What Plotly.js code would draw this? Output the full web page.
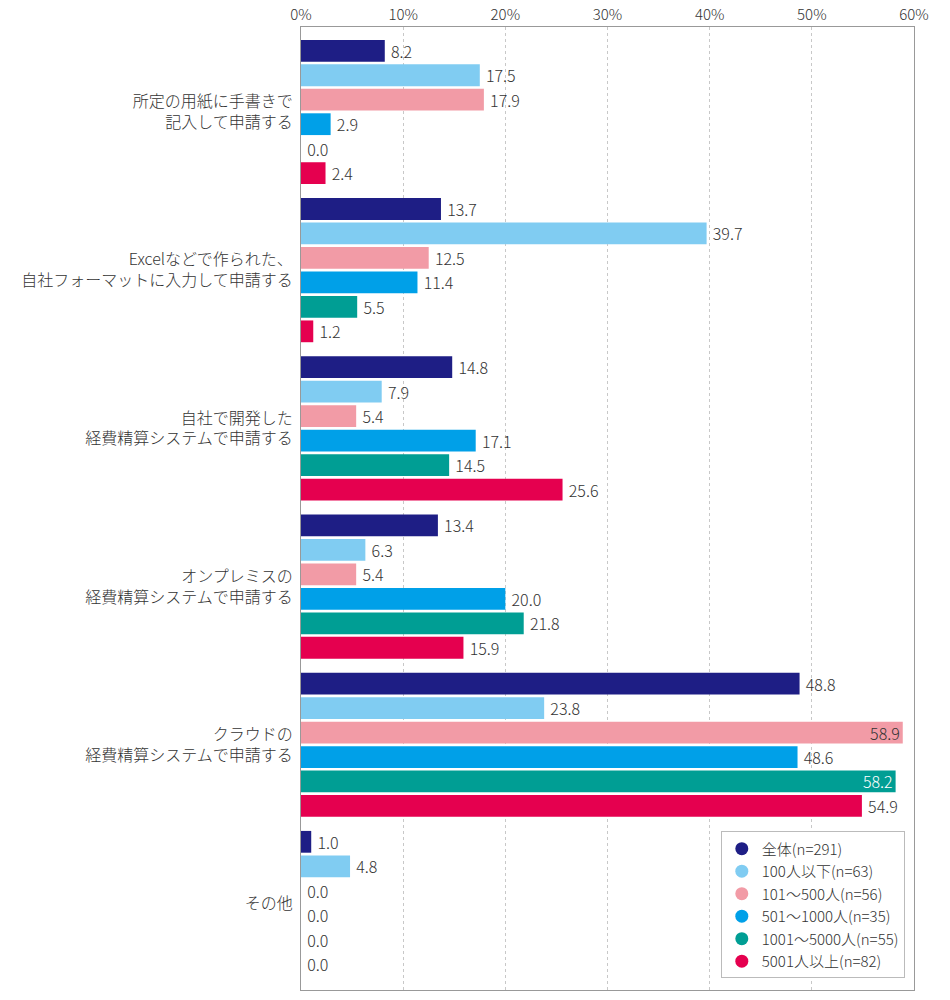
<!DOCTYPE html>
<html>
<head>
<meta charset="utf-8">
<script src="https://cdn.plot.ly/plotly-3.0.1.min.js"></script>
<style>
  body { margin: 0; background: #fff; }
  #chart { width: 950px; height: 1000px; }
</style>
</head>
<body>
<div id="chart"></div>
<script>
var categories = [
    '所定の用紙に手書きで<br>記入して申請する',
    'Excelなどで作られた、<br>自社フォーマットに入力して申請する',
    '自社で開発した<br>経費精算システムで申請する',
    'オンプレミスの<br>経費精算システムで申請する',
    'クラウドの<br>経費精算システムで申請する',
    'その他'
];

var seriesNames = ['全体(n=291)', '100人以下(n=63)', '101～500人(n=56)',
                   '501～1000人(n=35)', '1001～5000人(n=55)', '5001人以上(n=82)'];
var seriesColors = ['#1e1e85', '#80ccf2', '#f29ba6', '#00a0e8', '#009e94', '#e5004f'];

var allValues   = [8.2, 13.7, 14.8, 13.4, 48.8, 1.0];
var upTo100     = [17.5, 39.7, 7.9, 6.3, 23.8, 4.8];
var upTo500     = [17.9, 12.5, 5.4, 5.4, 58.9, 0.0];
var upTo1000    = [2.9, 11.4, 17.1, 20.0, 48.6, 0.0];
var upTo5000    = [0.0, 5.5, 14.5, 21.8, 58.2, 0.0];
var over5000    = [2.4, 1.2, 25.6, 15.9, 54.9, 0.0];

var seriesValues = [allValues, upTo100, upTo500, upTo1000, upTo5000, over5000];

var fontFam = '"Noto Sans CJK JP", "Noto Sans", sans-serif';

var traces = [];
seriesValues.forEach(function(vals, i) {
    // labels that would overflow the 60% edge go inside the bar
    var pos = vals.map(function(v) { return v > 56 ? 'inside' : 'outside'; });
    var tmpl = vals.map(function(v) { return v > 56 ? '%{x:.1f}' : '\u2009%{x:.1f}'; });
    var txtColor = vals.map(function(v) {
        return (v > 56 && i === 4) ? '#ffffff' : '#333333';
    });
    traces.push({
        type: 'bar',
        orientation: 'h',
        y: categories,
        x: vals,
        name: seriesNames[i],
        marker: {color: seriesColors[i]},
        texttemplate: tmpl,
        textposition: pos,
        insidetextanchor: 'end',
        constraintext: 'none',
        textfont: {size: 16, color: txtColor, family: fontFam, weight: 300},
        cliponaxis: false,
        showlegend: false,
        hoverinfo: 'x+name'
    });
});

// round legend markers
seriesNames.forEach(function(n, i) {
    traces.push({
        type: 'scatter',
        mode: 'markers',
        x: [null], y: [null],
        name: n,
        marker: {symbol: 'circle', size: 13, color: seriesColors[i]},
        showlegend: true
    });
});

var layout = {
    width: 950,
    height: 1000,
    margin: {l: 301, r: 36, t: 27, b: 10},
    paper_bgcolor: '#fff',
    plot_bgcolor: '#fff',
    font: {family: fontFam, color: '#333', size: 14, weight: 300},
    barmode: 'group',
    bargap: 0.072,
    bargroupgap: 0.11,
    xaxis: {
        side: 'top',
        range: [0, 60],
        dtick: 10,
        ticksuffix: '%',
        tickfont: {size: 15, color: '#333', weight: 300},
        showgrid: true,
        gridcolor: '#c8c8c8',
        griddash: 'dot',
        gridwidth: 1,
        showline: true,
        linecolor: '#999',
        mirror: true,
        zeroline: false,
        ticks: '',
        fixedrange: true
    },
    yaxis: {
        range: [5.55, -0.537],
        tickfont: {size: 16, color: '#333', weight: 300},
        showline: true,
        linecolor: '#999',
        mirror: true,
        ticks: 'outside',
        ticklen: 4,
        tickcolor: 'rgba(0,0,0,0)',
        showgrid: false,
        fixedrange: true
    },
    legend: {
        x: 0.985,
        xanchor: 'right',
        y: 0.012,
        yanchor: 'bottom',
        bgcolor: '#fff',
        bordercolor: '#bbb',
        borderwidth: 1,
        font: {size: 15, color: '#333', weight: 300},
        tracegroupgap: 0,
        itemwidth: 30
    }
};

Plotly.newPlot('chart', traces, layout, {displayModeBar: false, staticPlot: true});
</script>
</body>
</html>
